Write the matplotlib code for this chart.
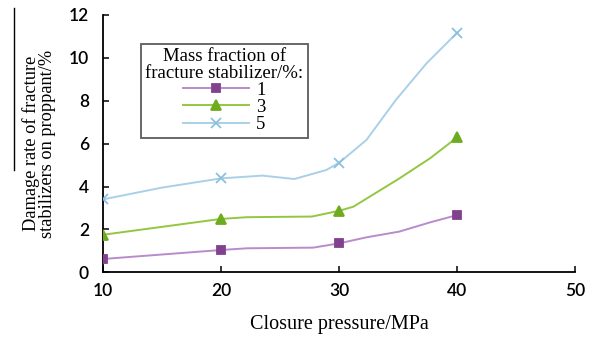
import matplotlib
matplotlib.use("Agg")
import matplotlib.pyplot as plt
from matplotlib.lines import Line2D

# 测点(带标记)
pressure = [10, 20, 30, 40]
rate_1 = [0.62, 1.04, 1.35, 2.67]
rate_3 = [1.75, 2.49, 2.87, 6.30]
rate_5 = [3.40, 4.38, 5.11, 11.18]

# 平滑曲线上读出的点
curve_x_1 = [10, 20, 22.2, 27.8, 30, 32.3, 35.1, 37.7, 40]
curve_y_1 = [0.62, 1.04, 1.12, 1.15, 1.35, 1.63, 1.90, 2.33, 2.67]
curve_x_3 = [10, 20, 22.2, 27.7, 30, 31.2, 35.1, 37.7, 40]
curve_y_3 = [1.75, 2.49, 2.57, 2.60, 2.87, 3.06, 4.38, 5.32, 6.30]
curve_x_5 = [10, 15, 20, 23.5, 26.2, 28.9, 30, 32.3, 34.8, 37.4, 40]
curve_y_5 = [3.40, 3.95, 4.38, 4.51, 4.35, 4.77, 5.11, 6.17, 8.04, 9.75, 11.18]

series_labels = ["1", "3", "5"]
xticks = [10, 20, 30, 40, 50]
yticks = [0, 2, 4, 6, 8, 10, 12]

serif = "Liberation Serif"
sans = "Lato"

fig = plt.figure(figsize=(5.92, 3.37), dpi=100)
ax = fig.add_axes([0.174, 0.192, 0.798, 0.7635])

styles = [
    (curve_x_1, curve_y_1, rate_1, "#b98bcb", "#81418f", "s", 6),
    (curve_x_3, curve_y_3, rate_3, "#93c741", "#6fab1f", "^", 7.5),
    (curve_x_5, curve_y_5, rate_5, "#a9d0e8", "#8dbfe0", "x", 7),
]
handles = []
for (cx, cy, py, lc, mc, mk, ms), lab in zip(styles, series_labels):
    ax.plot(cx, cy, color=lc, lw=1.4, zorder=2)
    ax.plot(pressure, py, ls="none", marker=mk, ms=ms, color=mc,
            mec=mc, mew=1.3, zorder=3)
    handles.append(Line2D([], [], color=lc, lw=1.4, marker=mk, ms=ms,
                          mfc=mc, mec=mc, mew=1.3, label=lab))

ax.set_xlim(10, 50)
ax.set_ylim(0, 12)
ax.set_xticks(xticks)
ax.set_yticks(yticks)
ax.spines["top"].set_visible(False)
ax.spines["right"].set_visible(False)
for s in ("left", "bottom"):
    ax.spines[s].set_linewidth(1.3)
ax.tick_params(direction="in", length=4, width=1.1, labelsize=12.5)
ax.tick_params(axis="x", pad=8)
ax.tick_params(axis="y", pad=10)
for t in ax.get_xticklabels() + ax.get_yticklabels():
    t.set_fontfamily(sans)
    t.set_fontweight("semibold")

ax.set_xlabel("Closure pressure/MPa", fontsize=14.5, family=serif, labelpad=11)
ax.set_ylabel("Damage rate of fracture\nstabilizers on proppant/%",
              fontsize=13.2, family=serif, labelpad=9, linespacing=0.95)

leg = ax.legend(handles=handles,
                title="Mass fraction of\nfracture stabilizer/%:",
                loc="upper left", bbox_to_anchor=(0.06, 0.925),
                frameon=True, fancybox=False, edgecolor="#333333",
                prop={"family": serif, "size": 13.5},
                handlelength=3.5, handletextpad=0.4, labelspacing=0.0,
                borderpad=0.25)
leg.get_frame().set_linewidth(1.3)
leg.get_title().set_fontfamily(serif)
leg.get_title().set_fontsize(13.5)
leg.get_title().set_linespacing(0.95)
leg.get_title().set_multialignment("center")

# 原图左上角的竖线残痕
fig.add_artist(Line2D([14 / 592, 14 / 592], [1 - 8 / 337, 1 - 170 / 337],
                      color="black", lw=1.0, transform=fig.transFigure))

fig.savefig("out.png", dpi=100)
